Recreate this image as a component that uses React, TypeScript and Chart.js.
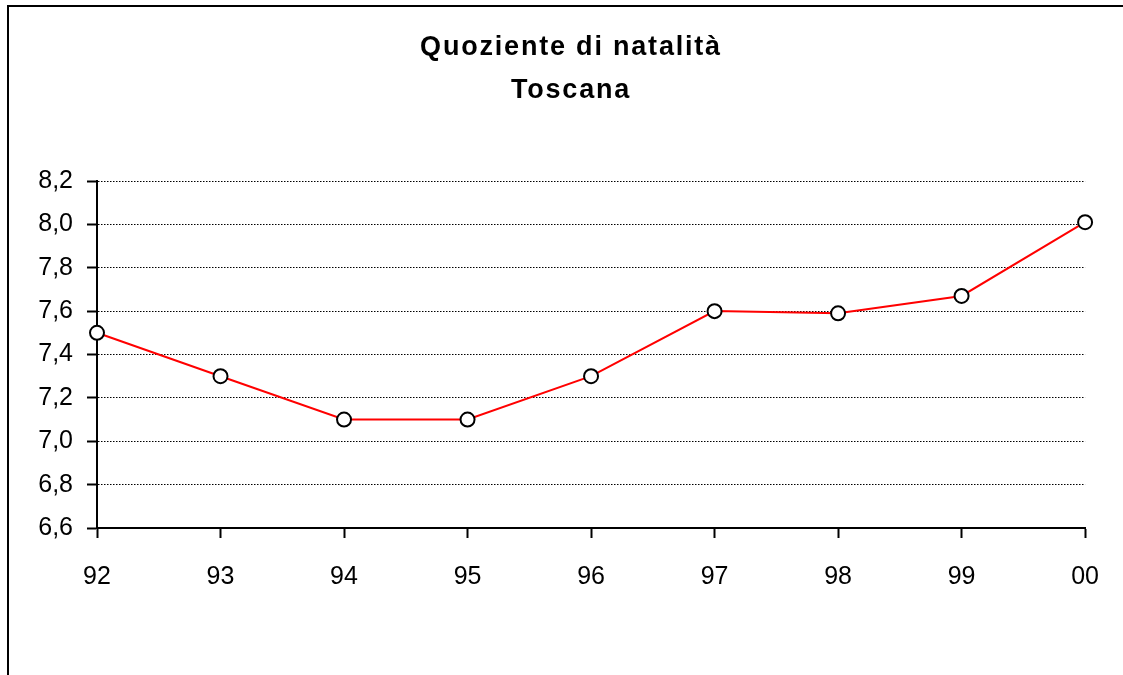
import React, { useEffect, useRef } from "react";
import { Chart, registerables } from "chart.js";

Chart.register(...registerables);

const titleLines = ["Quoziente di natalità", "Toscana"];
const years = ["92", "93", "94", "95", "96", "97", "98", "99", "00"];
const natalita = [7.5, 7.3, 7.1, 7.1, 7.3, 7.6, 7.59, 7.67, 8.01];
const yMin = 6.6;
const yMax = 8.2;
const yStep = 0.2;

const W = 1123;
const H = 675;
const FONT = '"Liberation Sans", Arial, sans-serif';

const titlePlugin = {
  id: "spacedTitle",
  afterDraw(chart: any) {
    const ctx = chart.ctx;
    ctx.save();
    ctx.font = `bold 27px ${FONT}`;
    (ctx as any).letterSpacing = "1.8px";
    ctx.fillStyle = "#000";
    ctx.textAlign = "center";
    ctx.textBaseline = "middle";
    ctx.fillText(titleLines[0], 571, 48);
    ctx.fillText(titleLines[1], 571, 91);
    ctx.restore();
  },
};

export default function App() {
  const ref = useRef<HTMLCanvasElement | null>(null);

  useEffect(() => {
    if (!ref.current) return;
    const chart = new Chart(ref.current, {
      type: "line",
      data: {
        labels: years,
        datasets: [
          {
            data: natalita,
            borderColor: "#ff0000",
            borderWidth: 2,
            tension: 0,
            pointRadius: 7,
            pointHoverRadius: 7,
            pointBorderWidth: 2,
            pointBorderColor: "#000",
            pointBackgroundColor: "#fff",
          },
        ],
      },
      options: {
        animation: false,
        responsive: false,
        maintainAspectRatio: false,
        layout: { padding: { top: 181, right: 36, left: 0, bottom: 0 } },
        plugins: {
          legend: { display: false },
          title: { display: false },
          tooltip: { enabled: false },
        },
        scales: {
          x: {
            offset: false,
            afterFit: (s: any) => {
              s.height = H - 528;
            },
            grid: {
              display: true,
              drawOnChartArea: false,
              drawTicks: true,
              tickLength: 10,
              tickColor: "#000",
              tickWidth: 2,
            },
            border: { display: true, color: "#000", width: 2 },
            ticks: {
              color: "#000",
              padding: 24,
              font: { family: FONT, size: 25 },
              maxRotation: 0,
              autoSkip: false,
            },
          },
          y: {
            min: yMin,
            max: yMax,
            afterFit: (s: any) => {
              s.width = 97;
            },
            grid: {
              display: true,
              drawOnChartArea: true,
              drawTicks: true,
              tickLength: 10,
              color: "#000",
              lineWidth: 1,
              tickColor: "#000",
              tickWidth: 2,
              tickBorderDash: [],
            },
            border: { display: true, color: "#000", width: 2, dash: [1.5, 1.5] },
            ticks: {
              stepSize: yStep,
              color: "#000",
              padding: 14,
              font: { family: FONT, size: 25 },
              callback: (v: any) => Number(v).toFixed(1).replace(".", ","),
            },
          },
        },
      },
      plugins: [titlePlugin],
    });
    return () => chart.destroy();
  }, []);

  return (
    <div style={{ position: "fixed", left: 0, top: 0, width: W, height: H, background: "#fff" }}>
      <canvas ref={ref} width={W} height={H} style={{ display: "block", width: W, height: H }} />
      <div
        style={{
          position: "absolute",
          left: 7,
          top: 5,
          width: W + 20,
          height: H + 20,
          borderTop: "2px solid #000",
          borderLeft: "2px solid #000",
          pointerEvents: "none",
        }}
      />
    </div>
  );
}
